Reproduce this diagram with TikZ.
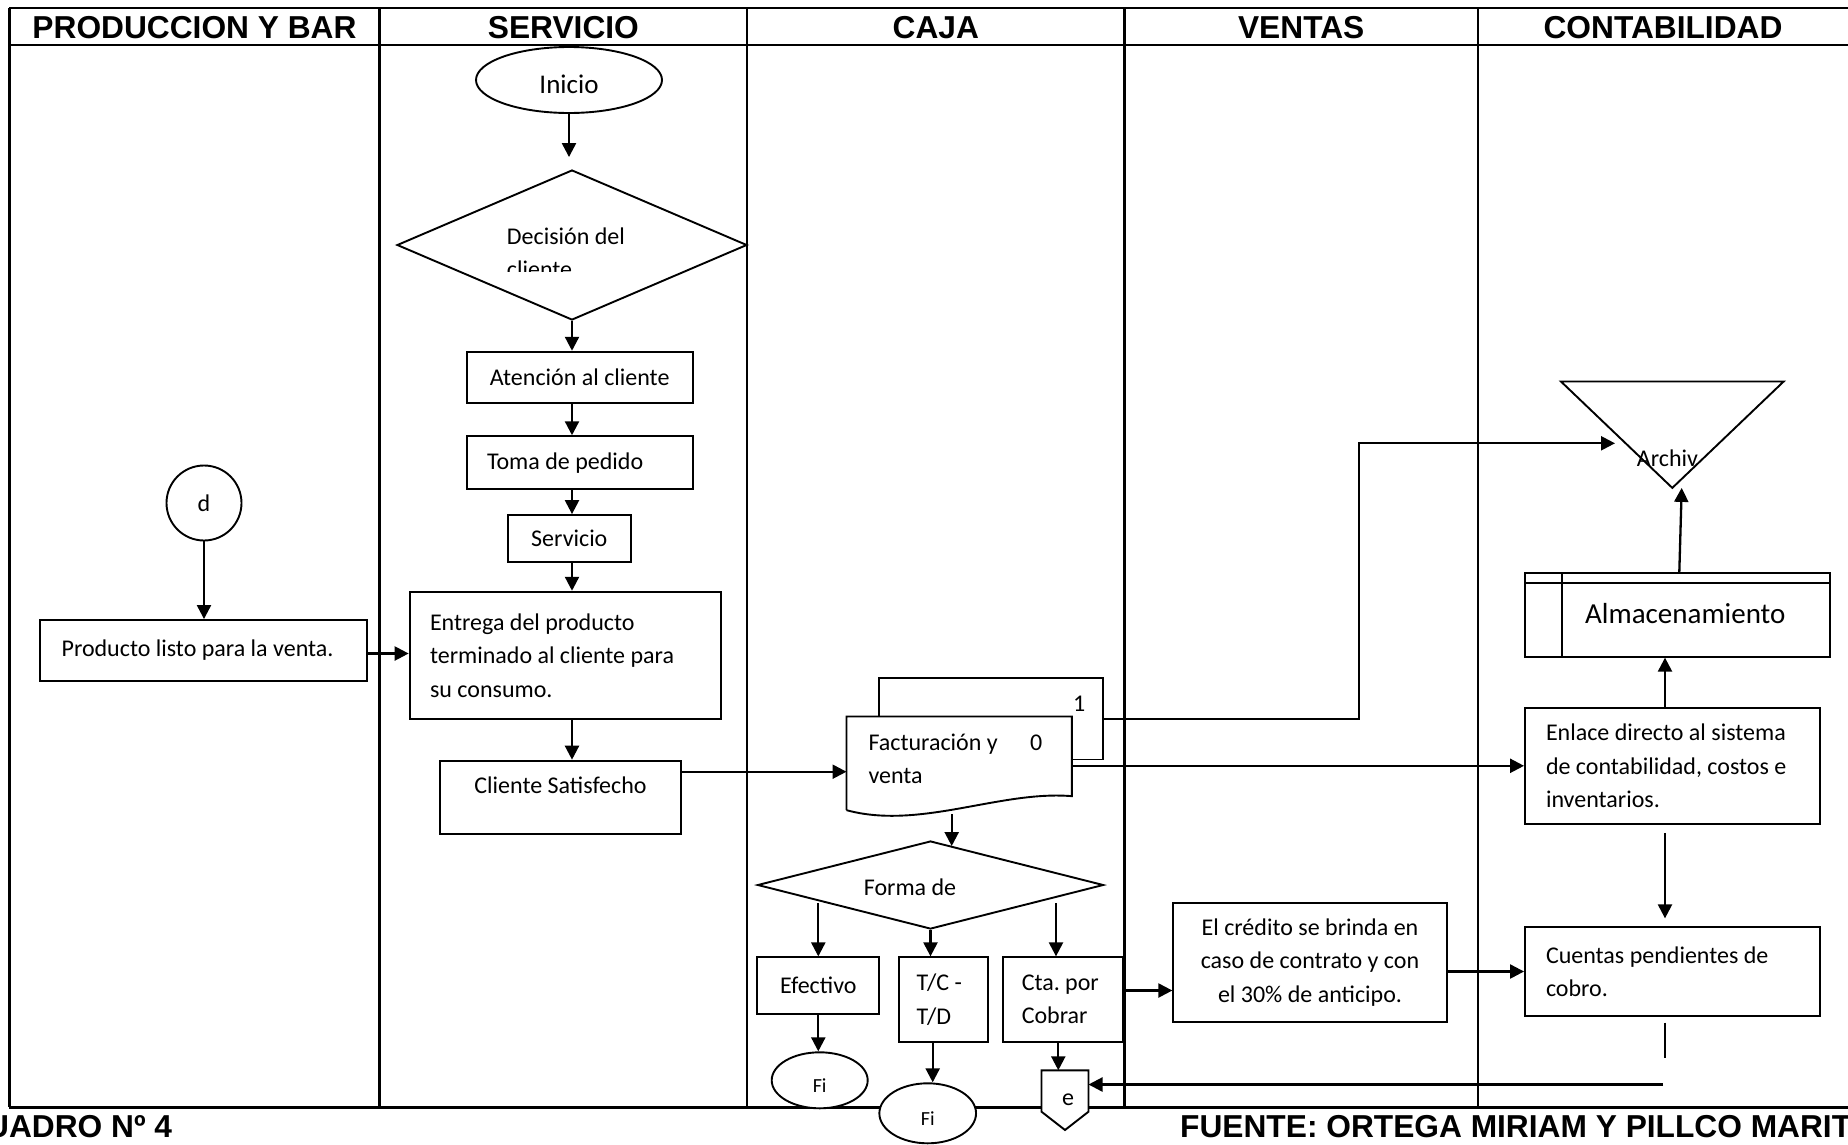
\documentclass[tikz,border=0pt]{standalone}
\usepackage{fontspec}
\setmainfont{Carlito}
\newfontfamily\headfont{Liberation Sans}
\usetikzlibrary{arrows.meta,shapes.geometric,calc}

\newcommand\flowtext{\fontsize{24}{33.5}\selectfont}
\newcommand\headtext{\headfont\bfseries\fontsize{31.7}{36}\selectfont}
\newcommand\fitext{\fontsize{20}{24}\selectfont}

\begin{document}
\begin{tikzpicture}[x=1pt,y=-1pt,
  tabrule/.style={line width=2.4pt},
  shp/.style={draw,line width=1.9pt,fill=white,inner sep=0pt,font=\flowtext},
  box/.style={shp,rectangle},
  lbox/.style={box,align=flush left,inner xsep=#1},
  arr/.style={line width=2.3pt,-{Triangle[length=14pt,width=14pt]}},
  ln/.style={line width=2.3pt},
  txt/.style={inner sep=0pt,font=\flowtext},
  head/.style={inner sep=0pt,font=\headtext}]

\useasboundingbox (0,0) rectangle (1848,1144);

% swimlane table
\draw[tabrule] (9.4,8) -- (1848,8);
\draw[tabrule] (9.4,45) -- (1848,45);
\draw[tabrule] (9.4,1107.3) -- (1848,1107.3);
\foreach \cx in {9.4,379.5,747.2,1124.4,1478}
  \draw[tabrule] (\cx,8) -- (\cx,1107.3);

\node[head,anchor=base] (h1) at (194.5,38) {PRODUCCION Y BAR};
\node[head,anchor=base] (h2) at (563.4,38) {SERVICIO};
\node[head,anchor=base] (h3) at (935.8,38) {CAJA};
\node[head,anchor=base] (h4) at (1301.2,38) {VENTAS};
\node[head,anchor=base] (h5) at (1663,38) {CONTABILIDAD};

\node[head,anchor=base west] (f1) at (-14,1137.3) {UADRO Nº 4};
\node[head,anchor=base west] (f2) at (1180,1137.3) {FUENTE: ORTEGA MIRIAM Y PILLCO MARIT};

% SERVICIO lane
\node[shp,ellipse,minimum width=186pt,minimum height=66pt,text height=26pt,text depth=0pt,
      font=\fontsize{27}{32}\selectfont] (ini) at (569,80) {Inicio};
\node[shp,diamond,minimum width=350pt,minimum height=150pt] (dec) at (572,245) {};
\begin{scope}
  \clip (380,150) rectangle (760,271.7);
  \node[txt,anchor=base west] (dec1) at (506.7,244.3) {Decisión del};
  \node[txt,anchor=base west] (dec2) at (506.7,277.8) {cliente};
\end{scope}
\node[box,minimum width=226pt,minimum height=51pt] (aten) at (579.7,377.2) {Atención al cliente};
\node[lbox=20.3pt,text width=185.4pt,minimum width=226pt,minimum height=53pt] (toma) at (579.7,462.7) {Toma de pedido};
\node[box,minimum width=123.5pt,minimum height=47.3pt] (serv) at (569.3,538.7) {Servicio};
\node[lbox=20.4pt,text width=270.4pt,minimum width=311.2pt,minimum height=127.6pt] (entr) at (565.2,655.5)
  {Entrega del producto\\terminado al cliente para\\su consumo.};
\node[box,minimum width=241pt,minimum height=73.3pt,text height=18pt,text depth=26pt] (clis) at (560.5,797.3) {Cliente Satisfecho};

% PRODUCCION Y BAR lane
\node[shp,circle,minimum size=75pt] (d) at (204,503) {d};
\node[lbox=21.6pt,text width=283.8pt,minimum width=327pt,minimum height=61pt] (prod) at (203.5,650.5) {Producto listo para la venta.};

% CAJA lane: multi-document
\node[box,minimum width=224pt,minimum height=81.2pt] (factb) at (991.3,718.9) {};
\node[txt,anchor=base west] (one) at (1073,711.7) {1};
\node[inner sep=0pt,minimum width=225pt,minimum height=93.3pt] (fact) at (959.2,763.3) {};
\draw[line width=1.9pt,fill=white] (fact.south west) -- (fact.north west) -- (fact.north east)
  -- ([yshift=14pt]fact.south east) .. controls +(-71.7,-6) and +(73.3,20) .. (fact.south west);
\node[txt,anchor=base west] (fact1) at (868.3,750) {Facturación y};
\node[txt,anchor=base west] (fact2) at (868.3,783) {venta};
\node[txt,anchor=base west] (zero) at (1030,750) {0};

\node[shp,diamond,minimum width=346pt,minimum height=88pt] (forma) at (930.5,885) {};
\node[txt,anchor=base] (formatxt) at (910,895) {Forma de};

\node[box,minimum width=122pt,minimum height=56.7pt] (efec) at (818.3,985.7) {Efectivo};
\node[lbox=17.4pt,text width=54.2pt,minimum width=89pt,minimum height=84.4pt] (tc) at (943.8,999.5) {T/C -\\T/D};
\node[lbox=19pt,text width=82.3pt,minimum width=120.3pt,minimum height=84.4pt] (cta) at (1062.9,999.5) {Cta.~por\\Cobrar};

\node[shp,ellipse,minimum width=96pt,minimum height=56pt,font=\fitext,text height=24pt,text depth=0pt] (fi1) at (819.7,1080.3) {Fi};
\node[shp,ellipse,minimum width=96.7pt,minimum height=60pt,font=\fitext,text height=24pt,text depth=0pt] (fi2) at (927.7,1113.3) {Fi};

% off-page connector
\node[inner sep=0pt,minimum width=46.6pt,minimum height=41pt] (e) at (1065,1091) {};
\draw[line width=1.9pt,fill=white] (e.north west) -- (e.north east) -- (e.south east)
  -- ([yshift=-18.3pt]e.south) -- (e.south west) -- cycle;
\node[txt,anchor=base] (etxt) at (1068,1105) {e};

% VENTAS lane
\node[box,align=center,minimum width=273.4pt,minimum height=118.4pt] (cred) at (1310,962.5)
  {El crédito se brinda en\\caso de contrato y con\\el 30\% de anticipo.};

% CONTABILIDAD lane
\node[inner sep=0pt,minimum width=222.3pt,minimum height=106pt] (arch) at (1672.3,434.7) {};
\draw[line width=1.9pt] (arch.north west) -- (arch.north east) -- (arch.south) -- cycle;
\node[txt,anchor=base west] (archtxt) at (1636.7,466.7) {Archiv};

\node[box,minimum width=305pt,minimum height=83.4pt] (alm) at (1677.5,615) {};
\draw[line width=1.9pt] ([yshift=-10.7pt]alm.north west) -- ([yshift=-10.7pt]alm.north east);
\draw[line width=1.9pt] ([xshift=38.3pt]alm.north west) -- ([xshift=38.3pt]alm.south west);
\node[inner sep=0pt,anchor=base,font=\fontsize{29}{34}\selectfont] (almtxt) at (1685.3,623) {Almacenamiento};

\node[lbox=21pt,text width=253pt,minimum width=295pt,minimum height=116.3pt] (enl) at (1672.5,765.8)
  {Enlace directo al sistema\\de contabilidad, costos e\\inventarios.};
\node[lbox=21pt,text width=253pt,minimum width=295pt,minimum height=88.4pt] (cue) at (1672.5,971.5)
  {Cuentas pendientes de\\cobro.};

% connectors
\draw[arr] (ini.south) -- ([yshift=12pt]ini.south |- dec.north);
\draw[arr] (dec.south) -- (dec.south |- aten.north);
\draw[arr] (dec.south |- aten.south) -- (dec.south |- toma.north);
\draw[arr] (dec.south |- toma.south) -- (dec.south |- serv.north);
\draw[arr] (dec.south |- serv.south) -- (dec.south |- entr.north);
\draw[arr] (dec.south |- entr.south) -- (dec.south |- clis.north);
\draw[arr] (d.south) -- (d.south |- prod.north);
\draw[arr] ([yshift=-3pt]prod.east) -- ([yshift=-3pt]prod.east -| entr.west);
\draw[arr] ([yshift=25.6pt]clis.east) -- ([yshift=25.6pt]clis.east -| fact.west);

\coordinate (archin) at (1615,443.3);
\draw[arr] (factb.east) -| ([xshift=-255.7pt]archin) -- (archin);
\draw[arr] (fact.east |- enl.west) -- (enl.west);
\draw[arr] ([xshift=-7.5pt,yshift=-4pt]fact.south) -- ([xshift=21.2pt,yshift=-6pt]forma.north);

\coordinate (fsplit) at ($(forma.center)+(0,18.3)$);
\draw[arr] (efec.north |- fsplit) -- (efec.north);
\draw[arr] (forma.south) -- (forma.south |- tc.north);
\draw[arr] ([xshift=-6.9pt]cta.north |- fsplit) -- ([xshift=-6.9pt]cta.north);
\draw[arr] (efec.south) -- (efec.south |- fi1.north);
\draw[arr] ([xshift=5pt]fi2.north |- tc.south) -- ([xshift=5pt]fi2.north);
\draw[arr] ([xshift=-6.7pt]e.north |- cta.south) -- ([xshift=-6.7pt]e.north);
\draw[arr] ([yshift=9pt]cta.east) -- ([yshift=9pt]cta.east -| cred.west);
\draw[arr] (cred.east |- cue.west) -- (cue.west);

\draw[arr] ([xshift=-7.5pt]enl.north) -- ([xshift=-7.5pt]enl.north |- alm.south);
\draw[arr] ([xshift=1.8pt]alm.north) -- ([xshift=9.4pt]arch.south);
\draw[arr] ([xshift=-7.5pt,yshift=-8pt]enl.south) -- ([xshift=-7.5pt,yshift=8pt]cue.north);
\draw[ln] ([xshift=-7.5pt,yshift=-6pt]cue.south) -- ([xshift=-7.5pt,yshift=-41pt]cue.south);
\coordinate (eret) at (1663,1084.5);
\draw[arr] (eret) -- (eret -| e.east);

\end{tikzpicture}
\end{document}
